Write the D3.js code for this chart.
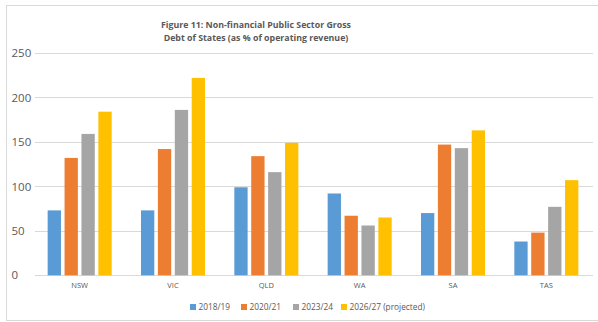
<!DOCTYPE html>
<html>
<head>
<meta charset="utf-8">
<script src="https://cdn.jsdelivr.net/npm/d3@7"></script>
<style>
  html, body { margin: 0; padding: 0; background: #fff; }
  svg { display: block; }
  text { font-family: "Open Sans", "Noto Sans", sans-serif; fill: #595959; }
</style>
</head>
<body>
<svg id="chart" width="598" height="322"></svg>
<script>
// Gross debt of states, % of operating revenue
const states = ["NSW", "VIC", "QLD", "WA", "SA", "TAS"];
const seriesNames = ["2018/19", "2020/21", "2023/24", "2026/27 (projected)"];
const v2018 = [73, 73, 99, 92, 70, 38];
const v2020 = [132, 142, 134, 67, 147, 48];
const v2023 = [159, 186, 116, 56, 143, 77];
const v2026 = [184, 222, 149, 65, 163, 107];
const yTicks = [0, 50, 100, 150, 200, 250];
const colors = ["#5b9bd5", "#ed7d31", "#a5a5a5", "#ffc000"];
const titleLines = ["Figure 11: Non-financial Public Sector Gross", "Debt of States (as % of operating revenue)"];

const seriesValues = [v2018, v2020, v2023, v2026];
const rows = states.map((s, i) => ({
  state: s,
  values: seriesNames.map((n, k) => ({ name: n, value: seriesValues[k][i], color: colors[k] }))
}));

const svg = d3.select("#chart");

// Chart frame
svg.append("rect")
  .attr("x", 6.5).attr("y", 5.5)
  .attr("width", 598).attr("height", 315)
  .attr("fill", "#fff").attr("stroke", "#d9d9d9").attr("stroke-width", 1);

const plot = { left: 33, right: 593, top: 53, bottom: 275.3 };

const x0 = d3.scaleBand()
  .domain(states)
  .range([plot.left, plot.right])
  .paddingInner(0.314)
  .paddingOuter(0.157);

const x1 = d3.scaleBand()
  .domain(seriesNames)
  .range([0, x0.bandwidth()])
  .paddingInner(0.213)
  .paddingOuter(0);

const y = d3.scaleLinear().domain([0, 250]).range([plot.bottom, plot.top]);

// Gridlines
svg.append("g")
  .selectAll("line")
  .data(yTicks)
  .join("line")
  .attr("x1", 35).attr("x2", plot.right)
  .attr("y1", d => Math.round(y(d)) + 0.5)
  .attr("y2", d => Math.round(y(d)) + 0.5)
  .attr("stroke", "#d9d9d9")
  .attr("stroke-width", 1);

// Y labels
svg.append("g")
  .selectAll("text")
  .data(yTicks)
  .join("text")
  .attr("x", 11.5)
  .attr("y", d => y(d))
  .attr("dy", "0.36em")
  .attr("font-size", 11.5)
  .text(d => d);

// Bars
const groups = svg.append("g")
  .selectAll("g")
  .data(rows)
  .join("g")
  .attr("transform", d => `translate(${x0(d.state)},0)`);

groups.selectAll("rect")
  .data(d => d.values)
  .join("rect")
  .attr("x", d => x1(d.name))
  .attr("width", x1.bandwidth())
  .attr("y", d => y(d.value))
  .attr("height", d => y(0) - y(d.value))
  .attr("fill", d => d.color);

// Category axis
const xAxis = d3.axisBottom(x0).tickSize(0).tickPadding(0);
const gx = svg.append("g")
  .attr("transform", `translate(0,${y(0)})`)
  .call(xAxis);
gx.select(".domain").remove();
gx.selectAll("text")
  .attr("y", 12.5)
  .attr("dy", "0")
  .attr("font-size", 7.5)
  .attr("font-family", null)
  .attr("fill", "#595959");

// Title
svg.append("g")
  .selectAll("text")
  .data(titleLines)
  .join("text")
  .attr("x", 256)
  .attr("y", (d, i) => 27.5 + i * 13.5)
  .attr("text-anchor", "middle")
  .attr("font-family", "Lato, 'Open Sans', sans-serif")
  .attr("font-size", 8.8)
  .attr("font-weight", "bold")
  .text(d => d);

// Legend
const legendX = [190, 241, 293, 341];
const legend = svg.append("g")
  .selectAll("g")
  .data(seriesNames)
  .join("g")
  .attr("transform", (d, i) => `translate(${legendX[i]},307)`);
legend.append("rect")
  .attr("x", 0).attr("y", -3)
  .attr("width", 6).attr("height", 6)
  .attr("fill", (d, i) => colors[i]);
legend.append("text")
  .attr("x", 8.5)
  .attr("dy", "0.35em")
  .attr("font-size", 8.3)
  .text(d => d);
</script>
</body>
</html>
